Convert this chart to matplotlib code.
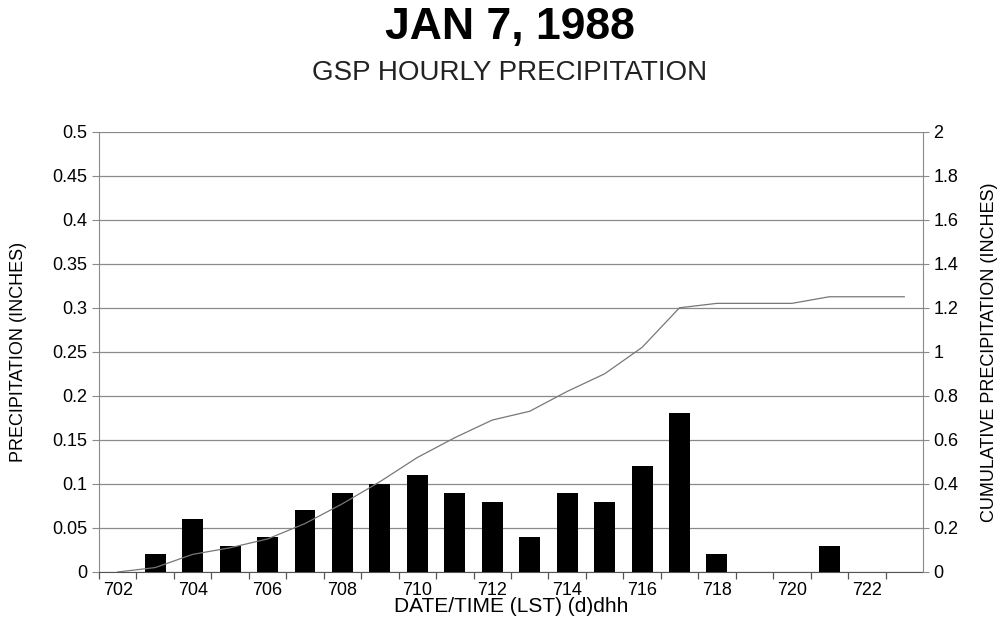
import numpy as np
import matplotlib.pyplot as plt
from matplotlib.ticker import FuncFormatter, MultipleLocator, FixedLocator

plt.rcParams['font.family'] = ['Liberation Sans', 'DejaVu Sans']

hours = [702, 703, 704, 705, 706, 707, 708, 709, 710, 711, 712,
         713, 714, 715, 716, 717, 718, 719, 720, 721, 722, 723]
hourly_precip = [0, 0.02, 0.06, 0.03, 0.04, 0.07, 0.09, 0.10, 0.11, 0.09, 0.08,
                 0.04, 0.09, 0.08, 0.12, 0.18, 0.02, 0, 0, 0.03, 0, 0]
cum_precip = [0, 0.02, 0.08, 0.11, 0.15, 0.22, 0.31, 0.41, 0.52, 0.61, 0.69,
              0.73, 0.82, 0.90, 1.02, 1.20, 1.22, 1.22, 1.22, 1.25, 1.25, 1.25]
label_hours = [702, 704, 706, 708, 710, 712, 714, 716, 718, 720, 722]

grid_c = '#8a8a8a'

fig = plt.figure(figsize=(10.03, 6.22), dpi=100)
ax = fig.add_axes([0.0987, 0.0804, 0.8215, 0.708])
x = np.arange(len(hours))

ax.bar(x, hourly_precip, width=0.56, color='black', zorder=3)
ax.set_xlim(-0.5, len(hours) - 0.5)
ax.set_ylim(0, 0.5)
ax.yaxis.set_major_locator(MultipleLocator(0.05))
ax.yaxis.set_major_formatter(FuncFormatter(lambda v, p: '%g' % round(v, 2)))
ax.grid(axis='y', color=grid_c, linewidth=0.9, zorder=0)

ax.set_xticks([hours.index(h) for h in label_hours])
ax.set_xticklabels([str(h) for h in label_hours])
ax.xaxis.set_minor_locator(FixedLocator(np.arange(-0.5, len(hours) - 1, 1.0)))
ax.tick_params(axis='x', which='major', length=0, labelsize=13, pad=7)
ax.tick_params(axis='x', which='minor', length=5, color='#555555', width=0.9)
ax.tick_params(axis='y', length=5, color=grid_c, labelsize=13)

for s in ['top', 'right']:
    ax.spines[s].set_visible(False)
ax.spines['left'].set_color(grid_c)
ax.spines['bottom'].set_color('#555555')

ax.set_ylabel('PRECIPITATION (INCHES)', fontsize=13)
ax.yaxis.set_label_coords(-0.087, 0.5)
ax.set_xlabel('DATE/TIME (LST) (d)dhh', fontsize=15)
ax.xaxis.set_label_coords(0.5, -0.057)

ax2 = ax.twinx()
ax2.plot(x, cum_precip, color='#777777', linewidth=0.9, zorder=4)
ax2.set_ylim(0, 2)
ax2.yaxis.set_major_locator(MultipleLocator(0.2))
ax2.yaxis.set_major_formatter(FuncFormatter(lambda v, p: '%g' % round(v, 1)))
ax2.tick_params(axis='y', length=4, color=grid_c, labelsize=13)
for s in ['top', 'left', 'bottom']:
    ax2.spines[s].set_visible(False)
ax2.spines['right'].set_color(grid_c)
ax2.set_ylabel('CUMULATIVE PRECIPITATION (INCHES)', fontsize=13)
ax2.yaxis.set_label_coords(1.071, 0.5)

fig.text(0.508, 0.955, 'JAN 7, 1988', ha='center', va='center',
         fontsize=32, fontweight='bold')
fig.text(0.508, 0.882, 'GSP HOURLY PRECIPITATION', ha='center', va='center',
         fontsize=20, color='#222222')

fig.savefig('out.png', dpi=100)
